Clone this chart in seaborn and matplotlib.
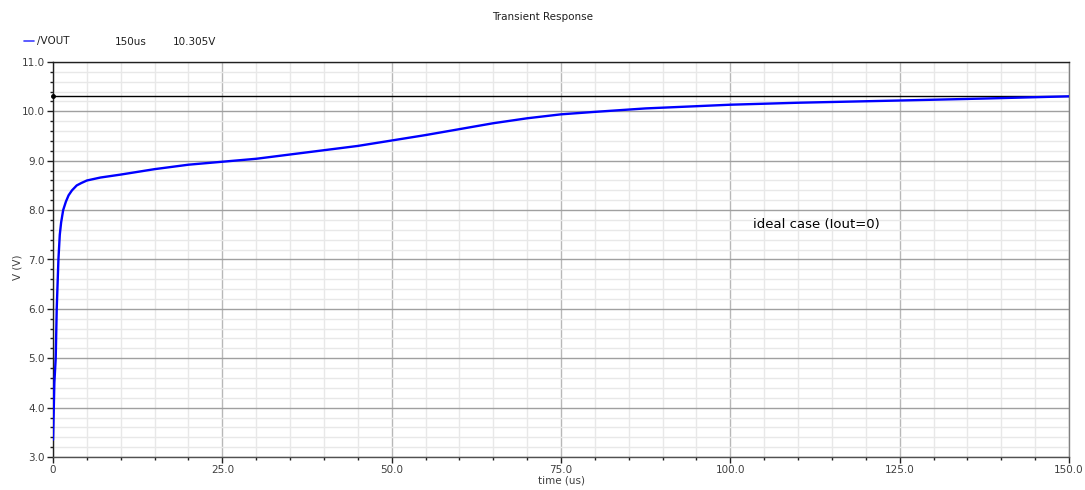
import matplotlib
matplotlib.use("Agg")
import matplotlib.pyplot as plt
from matplotlib.ticker import MultipleLocator, FixedLocator
from matplotlib.lines import Line2D
import seaborn as sns
import pandas as pd

# ---- data ----
time_us = [0, 0.1, 0.2, 0.4, 0.55, 0.8, 1.0, 1.2, 1.5, 1.9, 2.3, 2.8, 3.5, 4.2, 5, 7, 10,
           15, 20, 25, 30, 37.5, 45, 50, 55, 60, 65, 70, 75, 80, 87.5, 100, 110,
           125, 137.5, 150]
vout = [3.35, 3.9, 4.5, 5.0, 6.0, 7.0, 7.5, 7.75, 8.0, 8.17, 8.3, 8.4, 8.5, 8.55, 8.6, 8.66, 8.72,
        8.83, 8.92, 8.98, 9.04, 9.17, 9.3, 9.41, 9.52, 9.64, 9.76, 9.86, 9.94, 9.99, 10.06, 10.135, 10.175,
        10.22, 10.26, 10.305]
marker_level = 10.305
x_ticks = [0, 25, 50, 75, 100, 125, 150]
x_ticklabels = ["0", "25.0", "50.0", "75.0", "100.0", "125.0", "150.0"]
y_ticks = [3, 4, 5, 6, 7, 8, 9, 10, 11]
y_ticklabels = ["3.0", "4.0", "5.0", "6.0", "7.0", "8.0", "9.0", "10.0", "11.0"]

df = pd.DataFrame({"time": time_us, "V": vout})

sns.set_style("white")
plt.rcParams["font.family"] = ["DejaVu Sans"]

fig = plt.figure(figsize=(10.85, 4.9), dpi=100)
ax = fig.add_axes([53 / 1085, 1 - 457 / 490, (1069 - 53) / 1085, (457 - 62) / 490])

# grid
ax.set_xlim(0, 150)
ax.set_ylim(3, 11)
ax.xaxis.set_major_locator(FixedLocator(x_ticks))
ax.yaxis.set_major_locator(FixedLocator(y_ticks))
ax.xaxis.set_minor_locator(MultipleLocator(5))
ax.yaxis.set_minor_locator(MultipleLocator(0.2))
ax.grid(which="minor", color="#e8e8e8", linewidth=1.0)
ax.grid(which="major", axis="x", color="#b8b8b8", linewidth=1.0)
ax.grid(which="major", axis="y", color="#a0a0a0", linewidth=1.0)
ax.set_axisbelow(True)

# marker line
ax.axhline(marker_level, color="black", linewidth=1.0, zorder=3)
ax.plot([0], [marker_level], marker="o", markersize=2.5, color="black", clip_on=False, zorder=4)

sns.lineplot(data=df, x="time", y="V", ax=ax, color="#0000ff", linewidth=1.7,
             sort=False, zorder=5)

ax.set_xticks(x_ticks)
ax.set_xticklabels(x_ticklabels)
ax.set_yticks(y_ticks)
ax.set_yticklabels(y_ticklabels)
ax.tick_params(which="major", direction="out", length=4, width=1, color="#202020",
               labelsize=7.5, labelcolor="#404040", pad=2, bottom=True, left=True)
ax.tick_params(which="minor", direction="out", length=2.5, width=1, color="#202020",
               bottom=True, left=True)

for s in ["top", "right", "left", "bottom"]:
    ax.spines[s].set_visible(True)
    ax.spines[s].set_linewidth(1.0)
ax.spines["top"].set_color("#202020")
ax.spines["left"].set_color("#202020")
ax.spines["bottom"].set_color("#505050")
ax.spines["right"].set_color("#808080")

ax.set_xlabel("time (us)", fontsize=7.5, color="#404040", labelpad=0)
ax.set_ylabel("V (V)", fontsize=7.5, color="#404040")
ax.yaxis.set_label_coords((23 - 53) / 1016, 0.48)

ax.text(103.3, 7.7, "ideal case (Iout=0)", fontsize=9.5, color="black", va="center",
        ha="left", fontweight="medium")

# title and legend strip
fig.text(0.5, 1 - 17 / 490, "Transient Response", fontsize=7.5, color="#202020",
         ha="center", va="center")
fig.add_artist(Line2D([24 / 1085, 34 / 1085], [1 - 41 / 490, 1 - 41 / 490],
                      color="#4040ff", linewidth=1.2))
fig.text(37 / 1085, 1 - 41 / 490, "/VOUT", fontsize=7.5, color="#202020", va="center")
fig.text(115 / 1085, 1 - 42 / 490, "150us", fontsize=7.5, color="#202020", va="center")
fig.text(173 / 1085, 1 - 42 / 490, "10.305V", fontsize=7.5, color="#202020", va="center")

fig.savefig("out.png", dpi=100)
